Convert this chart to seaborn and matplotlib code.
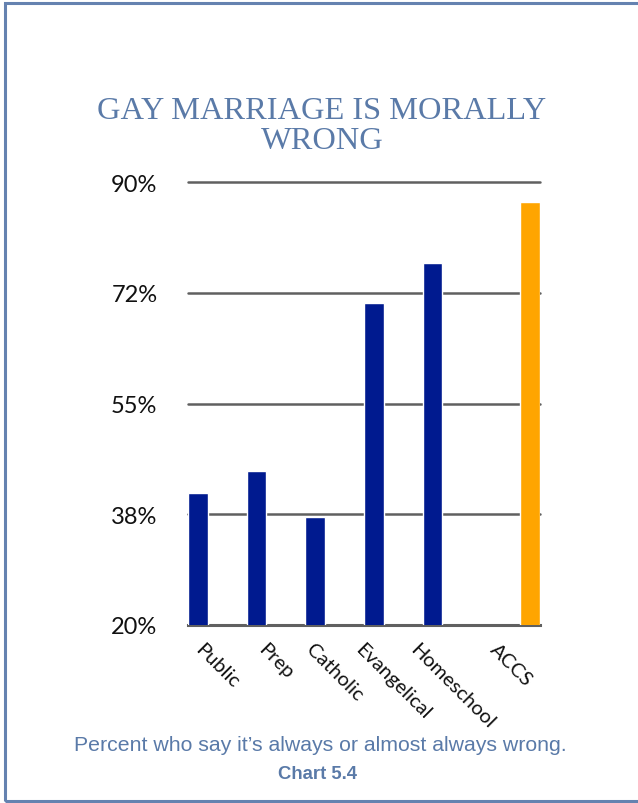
import numpy as np
import pandas as pd
import matplotlib
matplotlib.use("Agg")
import matplotlib.pyplot as plt
import matplotlib.patches as mpatches
import seaborn as sns

# datos
SCHOOLS = ["Public", "Prep", "Catholic", "Evangelical", "Homeschool", "ACCS"]
GROUPS = ["Otros", "Otros", "Otros", "Otros", "Otros", "ACCS"]
PCT = [40.9, 44.3, 37.1, 70.9, 77.2, 86.8]
HUE_ORDER = ["Otros", "_hueco", "ACCS"]
YTICKS = [20, 37.5, 55, 72.5, 90]
YLABELS = ["20%", "38%", "55%", "72%", "90%"]

NAVY = "#001A8F"
ORANGE = "#FFA500"
FRAME = "#6582B0"
GRID = "#606060"
TXT = "#5A7AA8"

sns.set_theme(style="white")
plt.rcParams["font.family"] = ["Lato", "DejaVu Sans"]

df = pd.DataFrame({"escuela": SCHOOLS, "grupo": GROUPS, "pct": PCT})

fig = plt.figure(figsize=(6.38, 8.04), dpi=100)
W, H = 638, 804
ax = fig.add_axes([188 / W, (H - 626) / H, (540 - 188) / W, (626 - 183) / H])

sns.barplot(data=df, x="escuela", y="pct", hue="grupo", hue_order=HUE_ORDER,
            palette={"Otros": NAVY, "_hueco": "white", "ACCS": ORANGE},
            width=1.0, dodge=True, saturation=1, legend=False, ax=ax, zorder=3)

ax.set_ylim(20, 90)
ax.set_xlim(-0.5, len(SCHOOLS) - 0.5)
ax.set_yticks(YTICKS)
ax.set_yticklabels(YLABELS, fontsize=17, color="#111111")
ax.tick_params(axis="y", length=0, pad=22)
ax.tick_params(axis="x", length=0, pad=11)
for lab in ax.get_xticklabels():
    lab.set_rotation(-45)
    lab.set_ha("center")
    lab.set_va("top")
    lab.set_fontsize(14.5)
    lab.set_color("#111111")
ax.set_xlabel("")
ax.set_ylabel("")

ax.yaxis.grid(True, color=GRID, lw=1.8)
for gl in ax.get_ygridlines():
    gl.set_clip_on(False)
ax.set_axisbelow(True)
sns.despine(ax=ax, left=True, right=True, top=True, bottom=False)
ax.spines["bottom"].set_color(GRID)
ax.spines["bottom"].set_linewidth(2.2)

fig.text(322 / W, (H - 97) / H, "GAY MARRIAGE IS MORALLY\nWRONG", ha="center", va="top",
         fontsize=23.3, color=TXT, family="Liberation Serif", linespacing=1.05)
fig.text(320 / W, (H - 746) / H, "Percent who say it\u2019s always or almost always wrong.",
         ha="center", va="center", fontsize=15.3, color=TXT, family="Liberation Sans")
fig.text(318 / W, (H - 775) / H, "Chart 5.4", ha="center", va="center", fontsize=13.3,
         color=TXT, family="Liberation Sans", fontweight="bold")

# marco
fig.add_artist(mpatches.Rectangle((5 / W, 2 / H), 1.2, (H - 6) / H, transform=fig.transFigure,
                                  fill=False, ec=FRAME, lw=2.2))

fig.savefig("out.png", dpi=100)
